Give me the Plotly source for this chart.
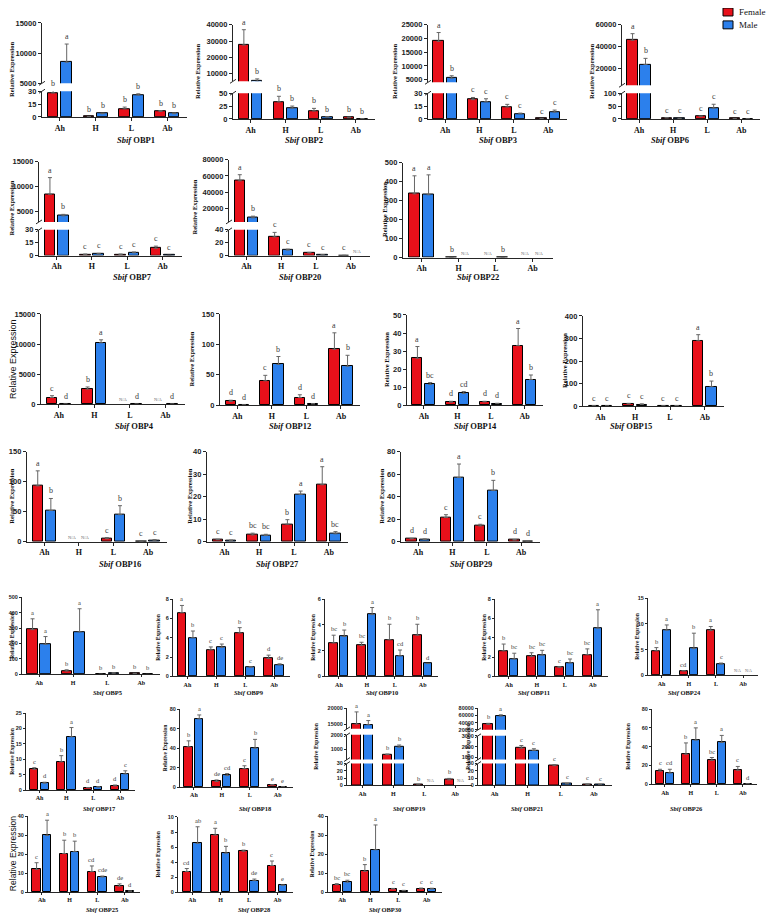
import plotly.graph_objects as go

# tissues: antennae of host-seeking (Ah), head (H), legs (L), abdomen (Ab)
CATEGORIES = ["Ah", "H", "L", "Ab"]

OBP1_F = [28, 0.4, 9.5, 6.5]
OBP1_F_SD = [3, 0.1, 2, 1]
OBP1_M = [8500, 3.8, 25.5, 3.8]
OBP1_M_SD = [3000, 0.6, 1.5, 0.8]
OBP1_F_SIG = ["b", "b", "b", "b"]
OBP1_M_SIG = ["a", "b", "b", "b"]

OBP2_F = [27500, 33, 15.5, 2.5]
OBP2_F_SD = [9500, 11, 5, 1]
OBP2_M = [5000, 21, 3.5, 0.3]
OBP2_M_SD = [1500, 4, 1, 0]
OBP2_F_SIG = ["a", "b", "b", "b"]
OBP2_M_SIG = ["b", "b", "b", "b"]

OBP3_F = [19000, 22.5, 14, 0.3]
OBP3_F_SD = [3200, 2.5, 3, 0]
OBP3_M = [5500, 20, 6, 8]
OBP3_M_SD = [900, 3.5, 0.8, 2.3]
OBP3_F_SIG = ["a", "c", "c", "c"]
OBP3_M_SIG = ["b", "c", "c", "c"]

OBP6_F = [46000, 4, 9, 1]
OBP6_F_SD = [6000, 1, 2.5, 0]
OBP6_M = [24000, 2, 42, 0.3]
OBP6_M_SD = [5500, 0.5, 15, 0]
OBP6_F_SIG = ["a", "c", "c", "c"]
OBP6_M_SIG = ["b", "c", "c", "c"]

OBP7_F = [8500, 1.3, 1.3, 8.5]
OBP7_F_SD = [3300, 0.5, 0.5, 2.5]
OBP7_M = [4200, 1.8, 3.2, 0.3]
OBP7_M_SD = [300, 0.8, 1, 0]
OBP7_F_SIG = ["a", "c", "c", "c"]
OBP7_M_SIG = ["b", "c", "c", "c"]

OBP20_F = [54000, 29, 4, 0.3]
OBP20_F_SD = [7500, 7, 1, 0]
OBP20_M = [9000, 8.5, 1, None]
OBP20_M_SD = [2000, 1.5, 0.3, 0]
OBP20_F_SIG = ["a", "c", "c", "c"]
OBP20_M_SIG = ["b", "c", "c", "N/A"]

OBP22_F = [335, 0.5, None, None]
OBP22_F_SD = [95, 0, 0, 0]
OBP22_M = [330, None, 0.5, None]
OBP22_M_SD = [105, 0, 0, 0]
OBP22_F_SIG = ["a", "b", "N/A", "N/A"]
OBP22_M_SIG = ["a", "N/A", "b", "N/A"]

OBP4_F = [1100, 2500, None, None]
OBP4_F_SD = [300, 350, 0, 0]
OBP4_M = [5, 10200, 5, 5]
OBP4_M_SD = [0, 500, 0, 0]
OBP4_F_SIG = ["c", "b", "N/A", "N/A"]
OBP4_M_SIG = ["d", "a", "d", "d"]

OBP12_F = [6, 40, 12.5, 92]
OBP12_F_SD = [2, 9, 4.5, 27]
OBP12_M = [0.3, 67, 2, 64]
OBP12_M_SD = [0, 13, 0.5, 18]
OBP12_F_SIG = ["d", "c", "d", "a"]
OBP12_M_SIG = ["d", "b", "d", "b"]

OBP14_F = [26, 1.6, 1.8, 33]
OBP14_F_SD = [6.5, 0.5, 0.3, 9.5]
OBP14_M = [11.5, 6.5, 0.8, 14.2]
OBP14_M_SD = [1, 1, 0.2, 2.5]
OBP14_F_SIG = ["a", "d", "d", "a"]
OBP14_M_SIG = ["bc", "cd", "d", "b"]

OBP15_F = [1, 9, 1, 290]
OBP15_F_SD = [0.3, 3, 0.3, 27]
OBP15_M = [0.5, 7, 2, 86]
OBP15_M_SD = [0, 3, 0.5, 25]
OBP15_F_SIG = ["c", "c", "c", "a"]
OBP15_M_SIG = ["c", "c", "c", "b"]

OBP16_F = [93, None, 5, 0.5]
OBP16_F_SD = [25, 0, 2, 0]
OBP16_M = [52, None, 45, 2.5]
OBP16_M_SD = [20, 0, 15, 1]
OBP16_F_SIG = ["a", "N/A", "c", "c"]
OBP16_M_SIG = ["b", "N/A", "b", "c"]

OBP27_F = [0.9, 3, 7.8, 25.3]
OBP27_F_SD = [0.2, 0.8, 2, 8]
OBP27_M = [0.6, 2.8, 21, 3.5]
OBP27_M_SD = [0.1, 0.5, 1.5, 1]
OBP27_F_SIG = ["c", "bc", "b", "a"]
OBP27_M_SIG = ["c", "bc", "a", "bc"]

OBP29_F = [2.5, 21.5, 14, 1.5]
OBP29_F_SD = [0.5, 2.5, 1.5, 0.5]
OBP29_M = [2, 57, 45.5, 0.5]
OBP29_M_SD = [0.5, 12, 9, 0]
OBP29_F_SIG = ["d", "c", "c", "d"]
OBP29_M_SIG = ["d", "a", "b", "d"]

OBP5_F = [290, 22, 1, 5]
OBP5_F_SD = [70, 8, 0, 2]
OBP5_M = [195, 275, 8, 0.5]
OBP5_M_SD = [50, 150, 3, 0]
OBP5_F_SIG = ["a", "b", "b", "b"]
OBP5_M_SIG = ["a", "a", "b", "b"]

OBP9_F = [6.6, 2.75, 4.5, 1.85]
OBP9_F_SD = [0.75, 0.3, 0.55, 0.35]
OBP9_M = [4, 3, 0.95, 1.2]
OBP9_M_SD = [0.7, 0.35, 0.05, 0.1]
OBP9_F_SIG = ["a", "c", "b", "d"]
OBP9_M_SIG = ["b", "c", "c", "de"]

OBP10_F = [2.6, 2.4, 2.85, 3.2]
OBP10_F_SD = [0.6, 0.25, 1.2, 0.85]
OBP10_M = [3.1, 4.8, 1.6, 1.0]
OBP10_M_SD = [0.5, 0.55, 0.45, 0]
OBP10_F_SIG = ["bc", "bc", "b", "b"]
OBP10_M_SIG = ["b", "a", "cd", "d"]

OBP11_F = [2.65, 2.05, 0.95, 2.25]
OBP11_F_SD = [0.7, 0.4, 0.05, 0.6]
OBP11_M = [1.8, 2.2, 1.4, 5.0]
OBP11_M_SD = [0.6, 0.5, 0.4, 1.9]
OBP11_F_SIG = ["b", "bc", "c", "bc"]
OBP11_M_SIG = ["bc", "bc", "bc", "a"]

OBP24_F = [4.8, 0.9, 8.7, None]
OBP24_F_SD = [0.6, 0, 0.8, 0]
OBP24_M = [8.8, 5.2, 2.2, None]
OBP24_M_SD = [1, 3, 0.2, 0]
OBP24_F_SIG = ["b", "cd", "a", "N/A"]
OBP24_M_SIG = ["a", "b", "c", "N/A"]

OBP17_F = [6.8, 9.2, 0.8, 1.4]
OBP17_F_SD = [0.5, 2, 0.1, 0.3]
OBP17_M = [2.3, 17.3, 1.0, 5.3]
OBP17_M_SD = [0.3, 3, 0.2, 1]
OBP17_F_SIG = ["c", "b", "d", "d"]
OBP17_M_SIG = ["d", "a", "d", "c"]

OBP18_F = [41.5, 6, 19, 2.3]
OBP18_F_SD = [6, 1.5, 3, 0.5]
OBP18_M = [70, 12, 40, 0.5]
OBP18_M_SD = [4, 2, 9, 0]
OBP18_F_SIG = ["b", "de", "c", "e"]
OBP18_M_SIG = ["a", "cd", "b", "e"]

OBP19_F = [15000, 640, 0.5, 7.5]
OBP19_F_SD = [3800, 40, 0, 2]
OBP19_M = [14800, 1150, None, None]
OBP19_M_SD = [1300, 150, 0, 0]
OBP19_F_SIG = ["a", "b", "b", "b"]
OBP19_M_SIG = ["a", "b", "N/A", "N/A"]

OBP21_F = [35000, 1850, 27, 1]
OBP21_F_SD = [3000, 250, 1.5, 0.5]
OBP21_M = [58000, 1650, 2, 0.5]
OBP21_M_SD = [3500, 150, 0.5, 0]
OBP21_F_SIG = ["b", "c", "c", "c"]
OBP21_M_SIG = ["a", "c", "c", "c"]

OBP26_F = [14, 32, 25.5, 15]
OBP26_F_SD = [2, 12, 3, 4]
OBP26_M = [12, 47, 44.5, 0.5]
OBP26_M_SD = [4, 13, 7.5, 0]
OBP26_F_SIG = ["c", "b", "bc", "c"]
OBP26_M_SIG = ["cd", "a", "a", "d"]

OBP25_F = [12, 20.3, 10.8, 3.2]
OBP25_F_SD = [3.5, 7, 3, 1.2]
OBP25_M = [29.8, 21.3, 8, 0.6]
OBP25_M_SD = [8, 5.5, 0.5, 0]
OBP25_F_SIG = ["c", "b", "cd", "de"]
OBP25_M_SIG = ["a", "b", "cde", "d"]

OBP28_F = [2.75, 7.6, 5.45, 3.55]
OBP28_F_SD = [0.4, 0.9, 0.15, 0.6]
OBP28_M = [6.5, 5.2, 1.55, 0.95]
OBP28_M_SD = [2.2, 0.9, 0.2, 0]
OBP28_F_SIG = ["cd", "a", "b", "c"]
OBP28_M_SIG = ["ab", "b", "de", "e"]

OBP30_F = [4, 11, 1.7, 1.7]
OBP30_F_SD = [0.5, 3.5, 0.3, 0.5]
OBP30_M = [5.3, 22.3, 0.8, 1.7]
OBP30_M_SD = [1, 13, 0.2, 0.4]
OBP30_F_SIG = ["bc", "b", "c", "c"]
OBP30_M_SIG = ["bc", "a", "c", "c"]

SERIES = ["Female", "Male"]

# panel placement (screen pixels): gene, left, right, row, y-title x, segments (bottom first)
# each segment: (range lo, range hi, tick values, top px, bottom px)
PANELS = [
    ("OBP1", 42, 187, 0, 12, [(0, 30, [0, 15, 30], 88, 114),
                              (5000, 15000, [5000, 10000, 15000], 19, 80)]),
    ("OBP2", 233, 375, 0, 198, [(0, 50, [0, 25, 50], 90, 116),
                                (5000, 40000, [10000, 20000, 30000, 40000], 21, 78)]),
    ("OBP3", 428, 567, 0, 395, [(0, 30, [0, 15, 30], 90, 116),
                                (4000, 25000, [5000, 10000, 15000, 20000, 25000], 21, 79)]),
    ("OBP6", 622, 760, 0, 592, [(0, 100, [0, 50, 100], 90, 116),
                                (5000, 60000, [20000, 40000, 60000], 21, 82)]),
    ("OBP7", 39, 182, 1, 12, [(0, 30, [0, 15, 30], 228, 254),
                              (3000, 15000, [5000, 10000, 15000], 159, 220)]),
    ("OBP20", 229, 370, 1, 195, [(0, 40, [0, 20, 40], 228, 254),
                                 (4000, 80000, [20000, 40000, 60000, 80000], 157, 220)]),
    ("OBP22", 403, 553, 1, 384, [(0, 500, [0, 100, 200, 300, 400, 500], 160, 256)]),
    ("OBP4", 41, 185, 2, 13, [(0, 15000, [0, 5000, 10000, 15000], 313, 404)]),
    ("OBP12", 220, 360, 2, 192, [(0, 150, [0, 50, 100, 150], 313, 405)]),
    ("OBP14", 407, 543, 2, 386, [(0, 50, [0, 10, 20, 30, 40, 50], 314, 405)]),
    ("OBP15", 583, 724, 2, 564, [(0, 400, [0, 100, 200, 300, 400], 315, 406)]),
    ("OBP16", 27, 167, 3, 12, [(0, 150, [0, 50, 100, 150], 452, 543)]),
    ("OBP27", 207, 348, 3, 190, [(0, 40, [0, 10, 20, 30, 40], 452, 543)]),
    ("OBP29", 401, 540, 3, 382, [(0, 80, [0, 20, 40, 60, 80], 452, 543)]),
    ("OBP5", 22, 160, 4, 12, [(0, 500, [0, 100, 200, 300, 400, 500], 599, 677)]),
    ("OBP9", 173, 290, 4, 158, [(0, 8, [0, 2, 4, 6, 8], 601, 679)]),
    ("OBP10", 325, 438, 4, 313, [(0, 6, [0, 2, 4, 6], 601, 679)]),
    ("OBP11", 495, 608, 4, 484, [(0, 8, [0, 2, 4, 6, 8], 601, 679)]),
    ("OBP24", 648, 758, 4, 637, [(0, 15, [0, 5, 10, 15], 600, 678)]),
    ("OBP17", 26, 135, 5, 12, [(0, 25, [0, 5, 10, 15, 20, 25], 716, 794)]),
    ("OBP18", 180, 293, 5, 165, [(0, 80, [0, 20, 40, 60, 80], 712, 791)]),
    ("OBP19", 347, 472, 5, 316, [(0, 30, [0, 10, 20, 30], 767, 789),
                                 (300, 2000, [1000, 2000], 738, 763),
                                 (13500, 20000, [15000, 20000], 711, 732)]),
    ("OBP21", 478, 612, 5, 468, [(0, 30, [0, 10, 20, 30], 767, 789),
                                 (800, 3000, [1000, 2000, 3000], 739, 763),
                                 (20000, 80000, [20000, 40000, 60000, 80000], 711, 733)]),
    ("OBP26", 652, 757, 5, 628, [(0, 80, [0, 20, 40, 60, 80], 712, 788)]),
    ("OBP25", 28, 140, 6, 13, [(0, 40, [0, 10, 20, 30, 40], 820, 897)]),
    ("OBP28", 178, 293, 6, 158, [(0, 10, [0, 2, 4, 6, 8, 10], 821, 897)]),
    ("OBP30", 328, 442, 6, 312, [(0, 40, [0, 10, 20, 30, 40], 820, 897)]),
]

ROW_TITLE_Y = [137, 276, 426, 565, 695, 812, 914]
ARIAL_YTITLE = {"OBP4", "OBP25"}

# the page body adds an 8px margin, so the figure is drawn 8px in from the window
OFF = 8
W, H = 777 - OFF, 922 - OFF
RED = "#e8101a"
BLUE = "#2c80ec"
AXIS = "#262626"
SERIF = "Liberation Serif"
SANS = "Liberation Sans"


def fx(px):
    return (px - OFF) / W


def fy(py):
    return 1 - (py - OFF) / H


def ax_id(kind, n):
    return kind if n == 1 else f"{kind}{n}"


def place_label(segs, y):
    """Pick the segment (index) and y where a letter above a bar should sit."""
    for k, (lo, hi, _, _, _) in enumerate(segs):
        if y < lo and k > 0:
            return k - 1, segs[k - 1][1]
        if y <= hi:
            return k, y
    return len(segs) - 1, segs[-1][1]


fig = go.Figure()
annotations = []
shapes = []
layout = {}
nx = 0
ny = 0

for gene, left, right, row, title_x, segs in PANELS:
    g = globals()
    fem, fem_sd = g[f"{gene}_F"], g[f"{gene}_F_SD"]
    mal, mal_sd = g[f"{gene}_M"], g[f"{gene}_M_SD"]
    fem_sig, mal_sig = g[f"{gene}_F_SIG"], g[f"{gene}_M_SIG"]
    big = row < 4
    tick_size = 7.5 if big else 5.5
    cat_size = 8 if big else 6
    let_size = 8 if big else 6.5
    line_w = 1.3 if big else 1
    tlen = 3 if big else 2

    nx += 1
    xid = ax_id("x", nx)
    pos_f = [i - 0.19 for i in range(len(CATEGORIES))]
    pos_m = [i + 0.19 for i in range(len(CATEGORIES))]

    seg_ids = []
    for k, (lo, hi, ticks, top_px, bot_px) in enumerate(segs):
        ny += 1
        yid = ax_id("y", ny)
        seg_ids.append(yid)
        layout[ax_id("yaxis", ny)] = dict(
            domain=[fy(bot_px), fy(top_px)], range=[lo, hi], anchor=xid,
            tickvals=ticks, tickformat="d", showgrid=False, zeroline=False,
            showline=True, linecolor=AXIS, linewidth=line_w,
            ticks="outside", ticklen=tlen, tickwidth=1, tickcolor=AXIS,
            tickfont=dict(family=SANS, size=tick_size, color="#222", weight="bold"),
        )
        for vals, sd, color, name in ((fem, fem_sd, RED, SERIES[0]),
                                      (mal, mal_sd, BLUE, SERIES[1])):
            fig.add_trace(go.Bar(
                x=pos_f if name == SERIES[0] else pos_m,
                y=vals, width=0.3, name=name,
                marker=dict(color=color, line=dict(color="black", width=1)),
                error_y=dict(type="data", array=sd, arrayminus=[0] * len(sd),
                             symmetric=False, color="#666", thickness=1, width=2),
                xaxis=xid, yaxis=yid, showlegend=False,
            ))
        # break marks between stacked segments
        if k > 0:
            prev_top = segs[k - 1][3]
            for yp in (prev_top, bot_px):
                shapes.append(dict(type="line", xref="paper", yref="paper",
                                   x0=fx(left - 3), y0=fy(yp + 2),
                                   x1=fx(left + 3), y1=fy(yp - 2),
                                   line=dict(color=AXIS, width=1)))

    layout[ax_id("xaxis", nx)] = dict(
        domain=[fx(left), fx(right)], range=[-0.5, 3.55], anchor=seg_ids[0],
        tickvals=list(range(len(CATEGORIES))), ticktext=CATEGORIES,
        showgrid=False, zeroline=False, showline=True, linecolor=AXIS,
        linewidth=line_w, ticks="outside", ticklen=tlen, tickwidth=1, tickcolor=AXIS,
        tickfont=dict(family=SERIF, size=cat_size, color="#111", weight="bold"),
    )

    # significance letters
    for vals, sd, sig, pos in ((fem, fem_sd, fem_sig, pos_f),
                               (mal, mal_sd, mal_sig, pos_m)):
        for v, s, t, p in zip(vals, sd, sig, pos):
            top = 0 if v is None else v + s
            k, yv = place_label(segs, top)
            na = t == "N/A"
            annotations.append(dict(
                x=p, y=yv, xref=xid, yref=seg_ids[k], text=t, showarrow=False,
                yanchor="bottom", yshift=0 if na else 1,
                font=dict(family=SERIF, size=(4.5 if big else 4) if na else let_size,
                          color="#666" if na else "#3a3a3a"),
            ))

    # panel title and y title
    annotations.append(dict(
        x=fx((left + right) / 2), y=fy(ROW_TITLE_Y[row]), xref="paper", yref="paper",
        text=f"<i>Sbif</i> {gene}", showarrow=False, yanchor="middle",
        font=dict(family=SERIF, size=8.5 if big else 6.5, color="#111", weight="bold"),
    ))
    mid = (segs[-1][3] + segs[0][4]) / 2
    if gene in ARIAL_YTITLE:
        yfont = dict(family=SANS, size=9 if big else 8.5, color="#111")
    else:
        yfont = dict(family=SERIF, size=6.5 if big else 5.5, color="#111", weight="bold")
    annotations.append(dict(
        x=fx(title_x), y=fy(mid), xref="paper", yref="paper",
        text="Relative Expression", textangle=-90, showarrow=False,
        xanchor="center", yanchor="middle", font=yfont,
    ))

# legend key drawn by hand so it can sit tight against the right edge
for name, color, yc in ((SERIES[0], RED, 8), (SERIES[1], BLUE, 21)):
    shapes.append(dict(type="rect", xref="paper", yref="paper",
                       x0=fx(723), x1=fx(733), y0=fy(yc + 4), y1=fy(yc - 4),
                       fillcolor=color, line=dict(color="black", width=1)))
    annotations.append(dict(x=fx(737), y=fy(yc), xref="paper", yref="paper",
                            text=name, showarrow=False, xanchor="left",
                            yanchor="middle",
                            font=dict(family=SERIF, size=9, color="#111")))

fig.update_layout(
    width=W, height=H, autosize=False,
    margin=dict(l=0, r=0, t=0, b=0),
    paper_bgcolor="white", plot_bgcolor="white",
    barmode="overlay", bargap=0, showlegend=False,
    annotations=annotations, shapes=shapes,
    **layout,
)

fig.write_html("out.html")
